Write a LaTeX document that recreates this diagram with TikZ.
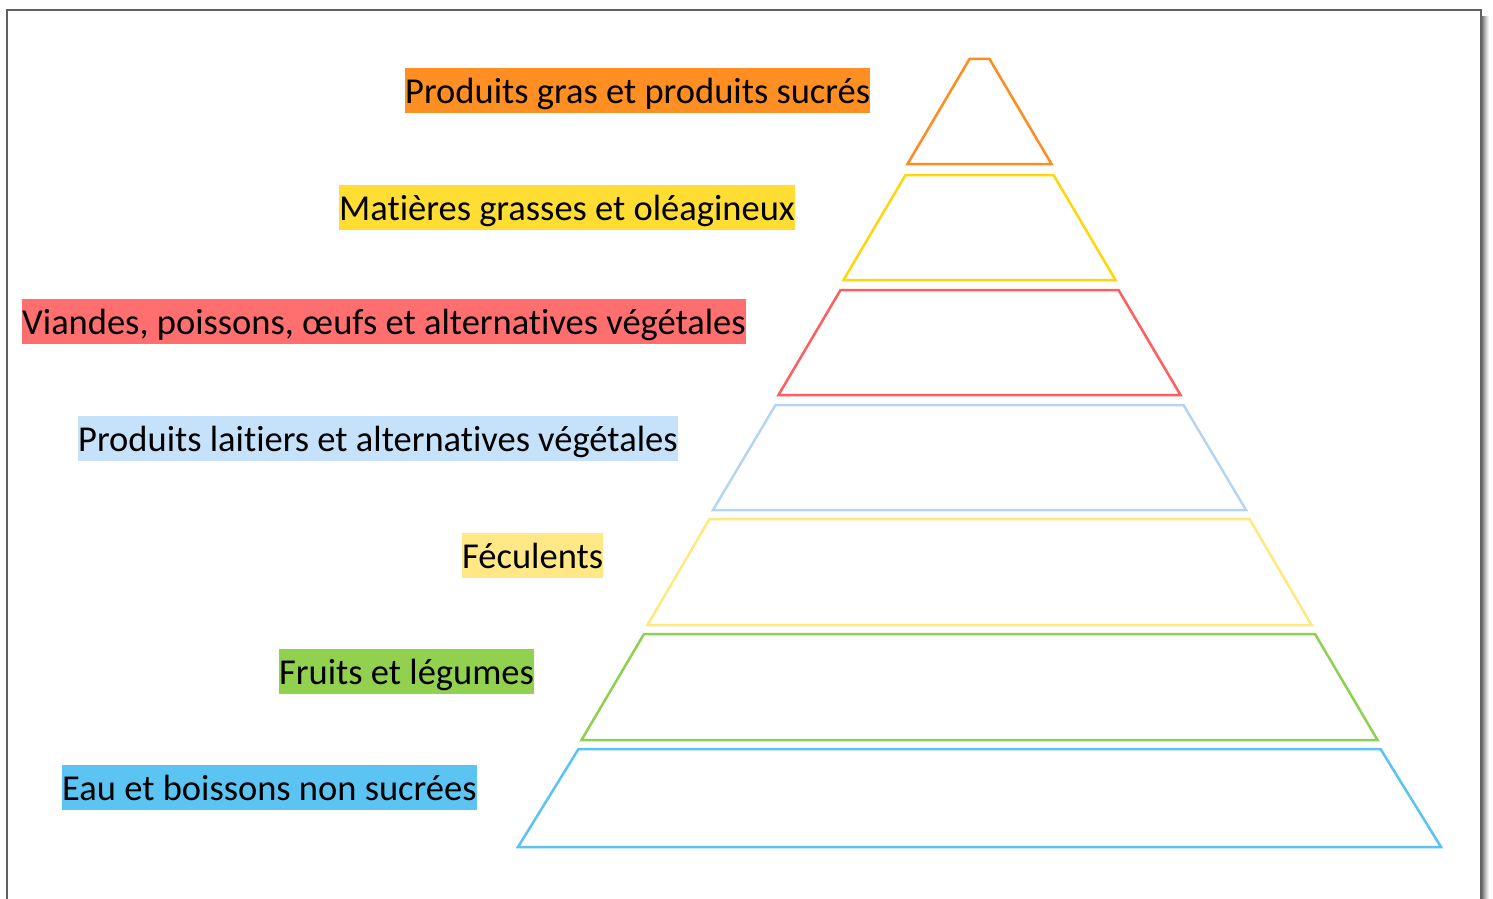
\documentclass[tikz,border=0pt]{standalone}
\usepackage{fontspec}
\setmainfont[Ligatures=NoCommon]{Carlito}
\definecolor{c1}{HTML}{FF8C1F}
\definecolor{c2}{HTML}{FFD60A}
\definecolor{c3}{HTML}{FF5E5E}
\definecolor{c4}{HTML}{B5D5F2}
\definecolor{c5}{HTML}{FFE880}
\definecolor{c6}{HTML}{8ED04F}
\definecolor{c7}{HTML}{5BC3F3}
\definecolor{h1}{HTML}{FF8F22}
\definecolor{h2}{HTML}{FFDD33}
\definecolor{h3}{HTML}{FF6F6F}
\definecolor{h4}{HTML}{C6E2FA}
\definecolor{h5}{HTML}{FFE885}
\definecolor{h6}{HTML}{92D050}
\definecolor{h7}{HTML}{5BC4F3}
\definecolor{framec}{HTML}{606060}
\tikzset{
  lbl/.style={anchor=north west, inner xsep=0pt, inner ysep=0pt,
    font=\fontsize{36.5}{44}\selectfont, text height=35.5pt, text depth=9pt},
  tier/.style={line width=2.5pt, line join=miter}
}
\begin{document}
\begin{tikzpicture}[x=1pt,y=-1pt]
\useasboundingbox (0,0) rectangle (1493,899);
\clip (0,0) rectangle (1493,899);
% frame shadow
\foreach \i/\g in {1/55,2/45,3/36,4/28,5/20,6/13,7/7} {
  \draw[black!\g, line width=1pt] (1481+\i,16) -- (1481+\i,905);
}
% frame
\draw[framec, line width=2pt] (7,905) -- (7,10) -- (1481,10) -- (1481,905);
% pyramid tiers
\def\cx{979.5}
\draw[tier, c1] (\cx-10,59) -- (\cx+10,59) -- (\cx+72,164) -- (\cx-72,164) -- cycle;
\draw[tier, c2] (\cx-74,175) -- (\cx+74,175) -- (\cx+136,280) -- (\cx-136,280) -- cycle;
\draw[tier, c3] (\cx-139,290) -- (\cx+139,290) -- (\cx+201,395) -- (\cx-201,395) -- cycle;
\draw[tier, c4] (\cx-204,405) -- (\cx+204,405) -- (\cx+266.5,510) -- (\cx-266.5,510) -- cycle;
\draw[tier, c5] (\cx-270,519) -- (\cx+270,519) -- (\cx+332,625) -- (\cx-332,625) -- cycle;
\draw[tier, c6] (\cx-335.5,634) -- (\cx+335.5,634) -- (\cx+398,740) -- (\cx-398,740) -- cycle;
\draw[tier, c7] (\cx-401,749) -- (\cx+401,749) -- (\cx+461.5,847) -- (\cx-461.5,847) -- cycle;
% labels
\node[lbl, fill=h1] (l1) at (405,68) {Produits gras et produits sucrés};
\node[lbl, fill=h2] (l2) at (339,185) {Matières grasses et oléagineux};
\node[lbl, fill=h3] (l3) at (22,299) {Viandes, poissons, œufs et alternatives végétales};
\node[lbl, fill=h4] (l4) at (78,416) {Produits laitiers et alternatives végétales};
\node[lbl, fill=h5] (l5) at (462,533) {Féculents};
\node[lbl, fill=h6] (l6) at (279,649) {Fruits et légumes};
\node[lbl, fill=h7] (l7) at (62,765) {Eau et boissons non sucrées};
\end{tikzpicture}
\end{document}
